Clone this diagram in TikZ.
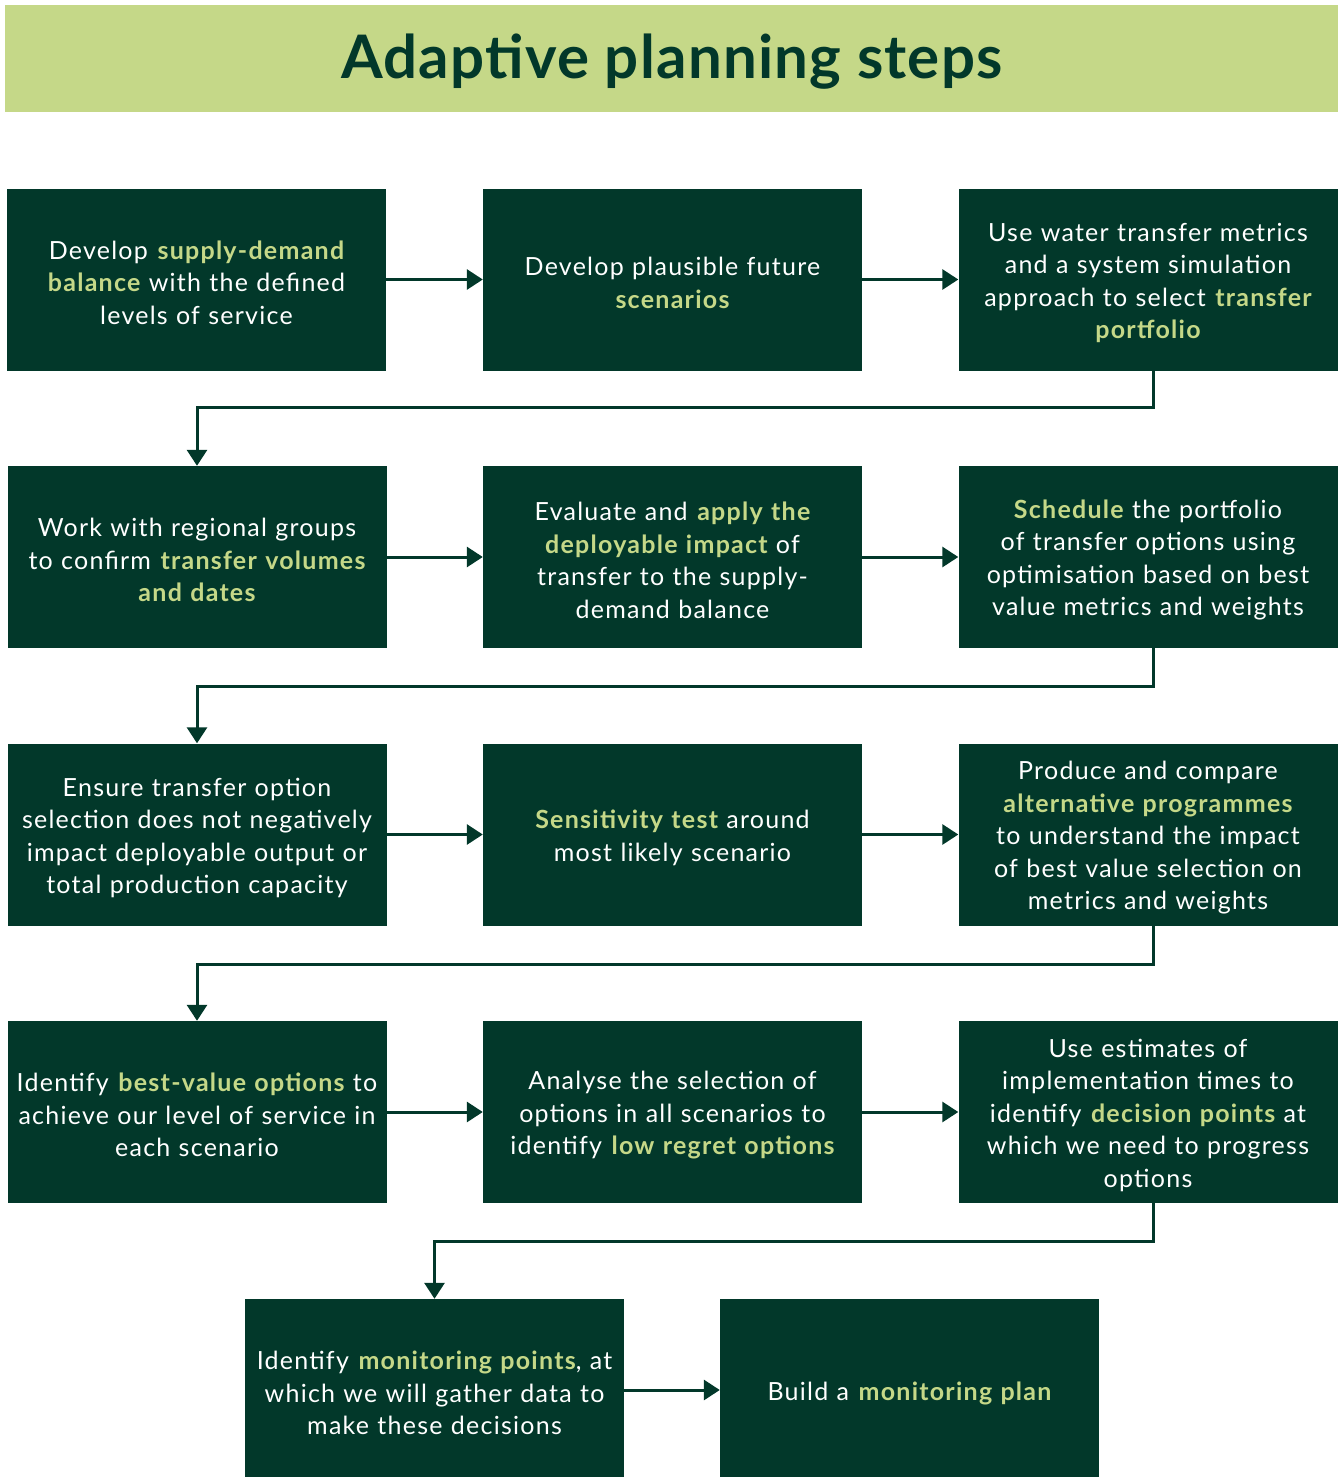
\documentclass[tikz,border=0pt]{standalone}
\usepackage{fontspec}
\setmainfont{Lato}
\newfontfamily\boxfont[LetterSpace=5]{Lato}
\newfontfamily\titlefont[LetterSpace=2]{Lato}
\usetikzlibrary{arrows.meta}
\definecolor{boxgreen}{HTML}{02382A}
\definecolor{lite}{HTML}{C5D888}
\newcommand\hl[1]{\textbf{\color{lite}#1}}
\begin{document}
\begin{tikzpicture}[x=1pt,y=-1pt,
  stepbox/.style={fill=boxgreen,text=white,minimum width=379pt,minimum height=182pt,
    text width=375pt,align=center,inner sep=0pt,font=\boxfont\fontsize{25}{32.5}\selectfont,
    execute at begin node={\rule{0pt}{25pt}}},
  flow/.style={draw=boxgreen,line width=3pt,-{Triangle[length=16pt,width=20pt]}}]
\useasboundingbox (0,0) rectangle (1341,1477);
\fill[lite] (5,5) rectangle (1338,112);
\node[text=boxgreen,font=\titlefont\fontsize{60}{62}\selectfont\bfseries] (title) at (672,62) {Adaptive planning steps};
% row 1
\node[stepbox] (b1) at (196.5,279.5) {Develop \hl{supply-demand}\\ \hl{balance} with the defined\\ levels of service};
\node[stepbox] (b2) at (672.5,279.5) {Develop plausible future\\ \hl{scenarios}};
\node[stepbox] (b3) at (1148,279.5) {Use water transfer metrics\\ and a system simulation\\ approach to select \hl{transfer}\\ \hl{portfolio}};
% row 2
\node[stepbox] (b4) at (197,557) {Work with regional groups\\ to confirm \hl{transfer volumes}\\ \hl{and dates}};
\node[stepbox] (b5) at (672.5,557) {Evaluate and \hl{apply the}\\ \hl{deployable impact} of\\ transfer to the supply-\\ demand balance};
\node[stepbox] (b6) at (1148,557) {\hl{Schedule} the portfolio\\ of transfer options using\\ optimisation based on best\\ value metrics and weights};
% row 3
\node[stepbox] (b7) at (197,834.5) {Ensure transfer option\\ selection does not negatively\\ impact deployable output or\\ total production capacity};
\node[stepbox] (b8) at (672.5,834.5) {\hl{Sensitivity test} around\\ most likely scenario};
\node[stepbox] (b9) at (1148,834.5) {Produce and compare\\ \hl{alternative programmes}\\ to understand the impact\\ of best value selection on\\ metrics and weights};
% row 4
\node[stepbox] (b10) at (197,1112) {Identify \hl{best-value options} to\\ achieve our level of service in\\ each scenario};
\node[stepbox] (b11) at (672.5,1112) {Analyse the selection of\\ options in all scenarios to\\ identify \hl{low regret options}};
\node[stepbox] (b12) at (1148,1112) {Use estimates of\\ implementation times to\\ identify \hl{decision points} at\\ which we need to progress\\ options};
% row 5
\node[stepbox] (b13) at (434.5,1390) {Identify \hl{monitoring points}, at\\ which we will gather data to\\ make these decisions};
\node[stepbox] (b14) at (909.5,1390) {Build a \hl{monitoring plan}};
% horizontal arrows
\draw[flow] (b1) -- (b2);
\draw[flow] (b2) -- (b3);
\draw[flow] (b4) -- (b5);
\draw[flow] (b5) -- (b6);
\draw[flow] (b7) -- (b8);
\draw[flow] (b8) -- (b9);
\draw[flow] (b10) -- (b11);
\draw[flow] (b11) -- (b12);
\draw[flow] (b13) -- (b14);
% elbow connectors
\coordinate (e1) at (1153,407);
\coordinate (e2) at (1153,686);
\coordinate (e3) at (1153,964);
\coordinate (e4) at (1153,1241);
\draw[flow] (b3.south -| e1) -- (e1) -- (e1 -| b4.north) -- (b4.north);
\draw[flow] (b6.south -| e2) -- (e2) -- (e2 -| b7.north) -- (b7.north);
\draw[flow] (b9.south -| e3) -- (e3) -- (e3 -| b10.north) -- (b10.north);
\draw[flow] (b12.south -| e4) -- (e4) -- (e4 -| b13.north) -- (b13.north);
\end{tikzpicture}
\end{document}
